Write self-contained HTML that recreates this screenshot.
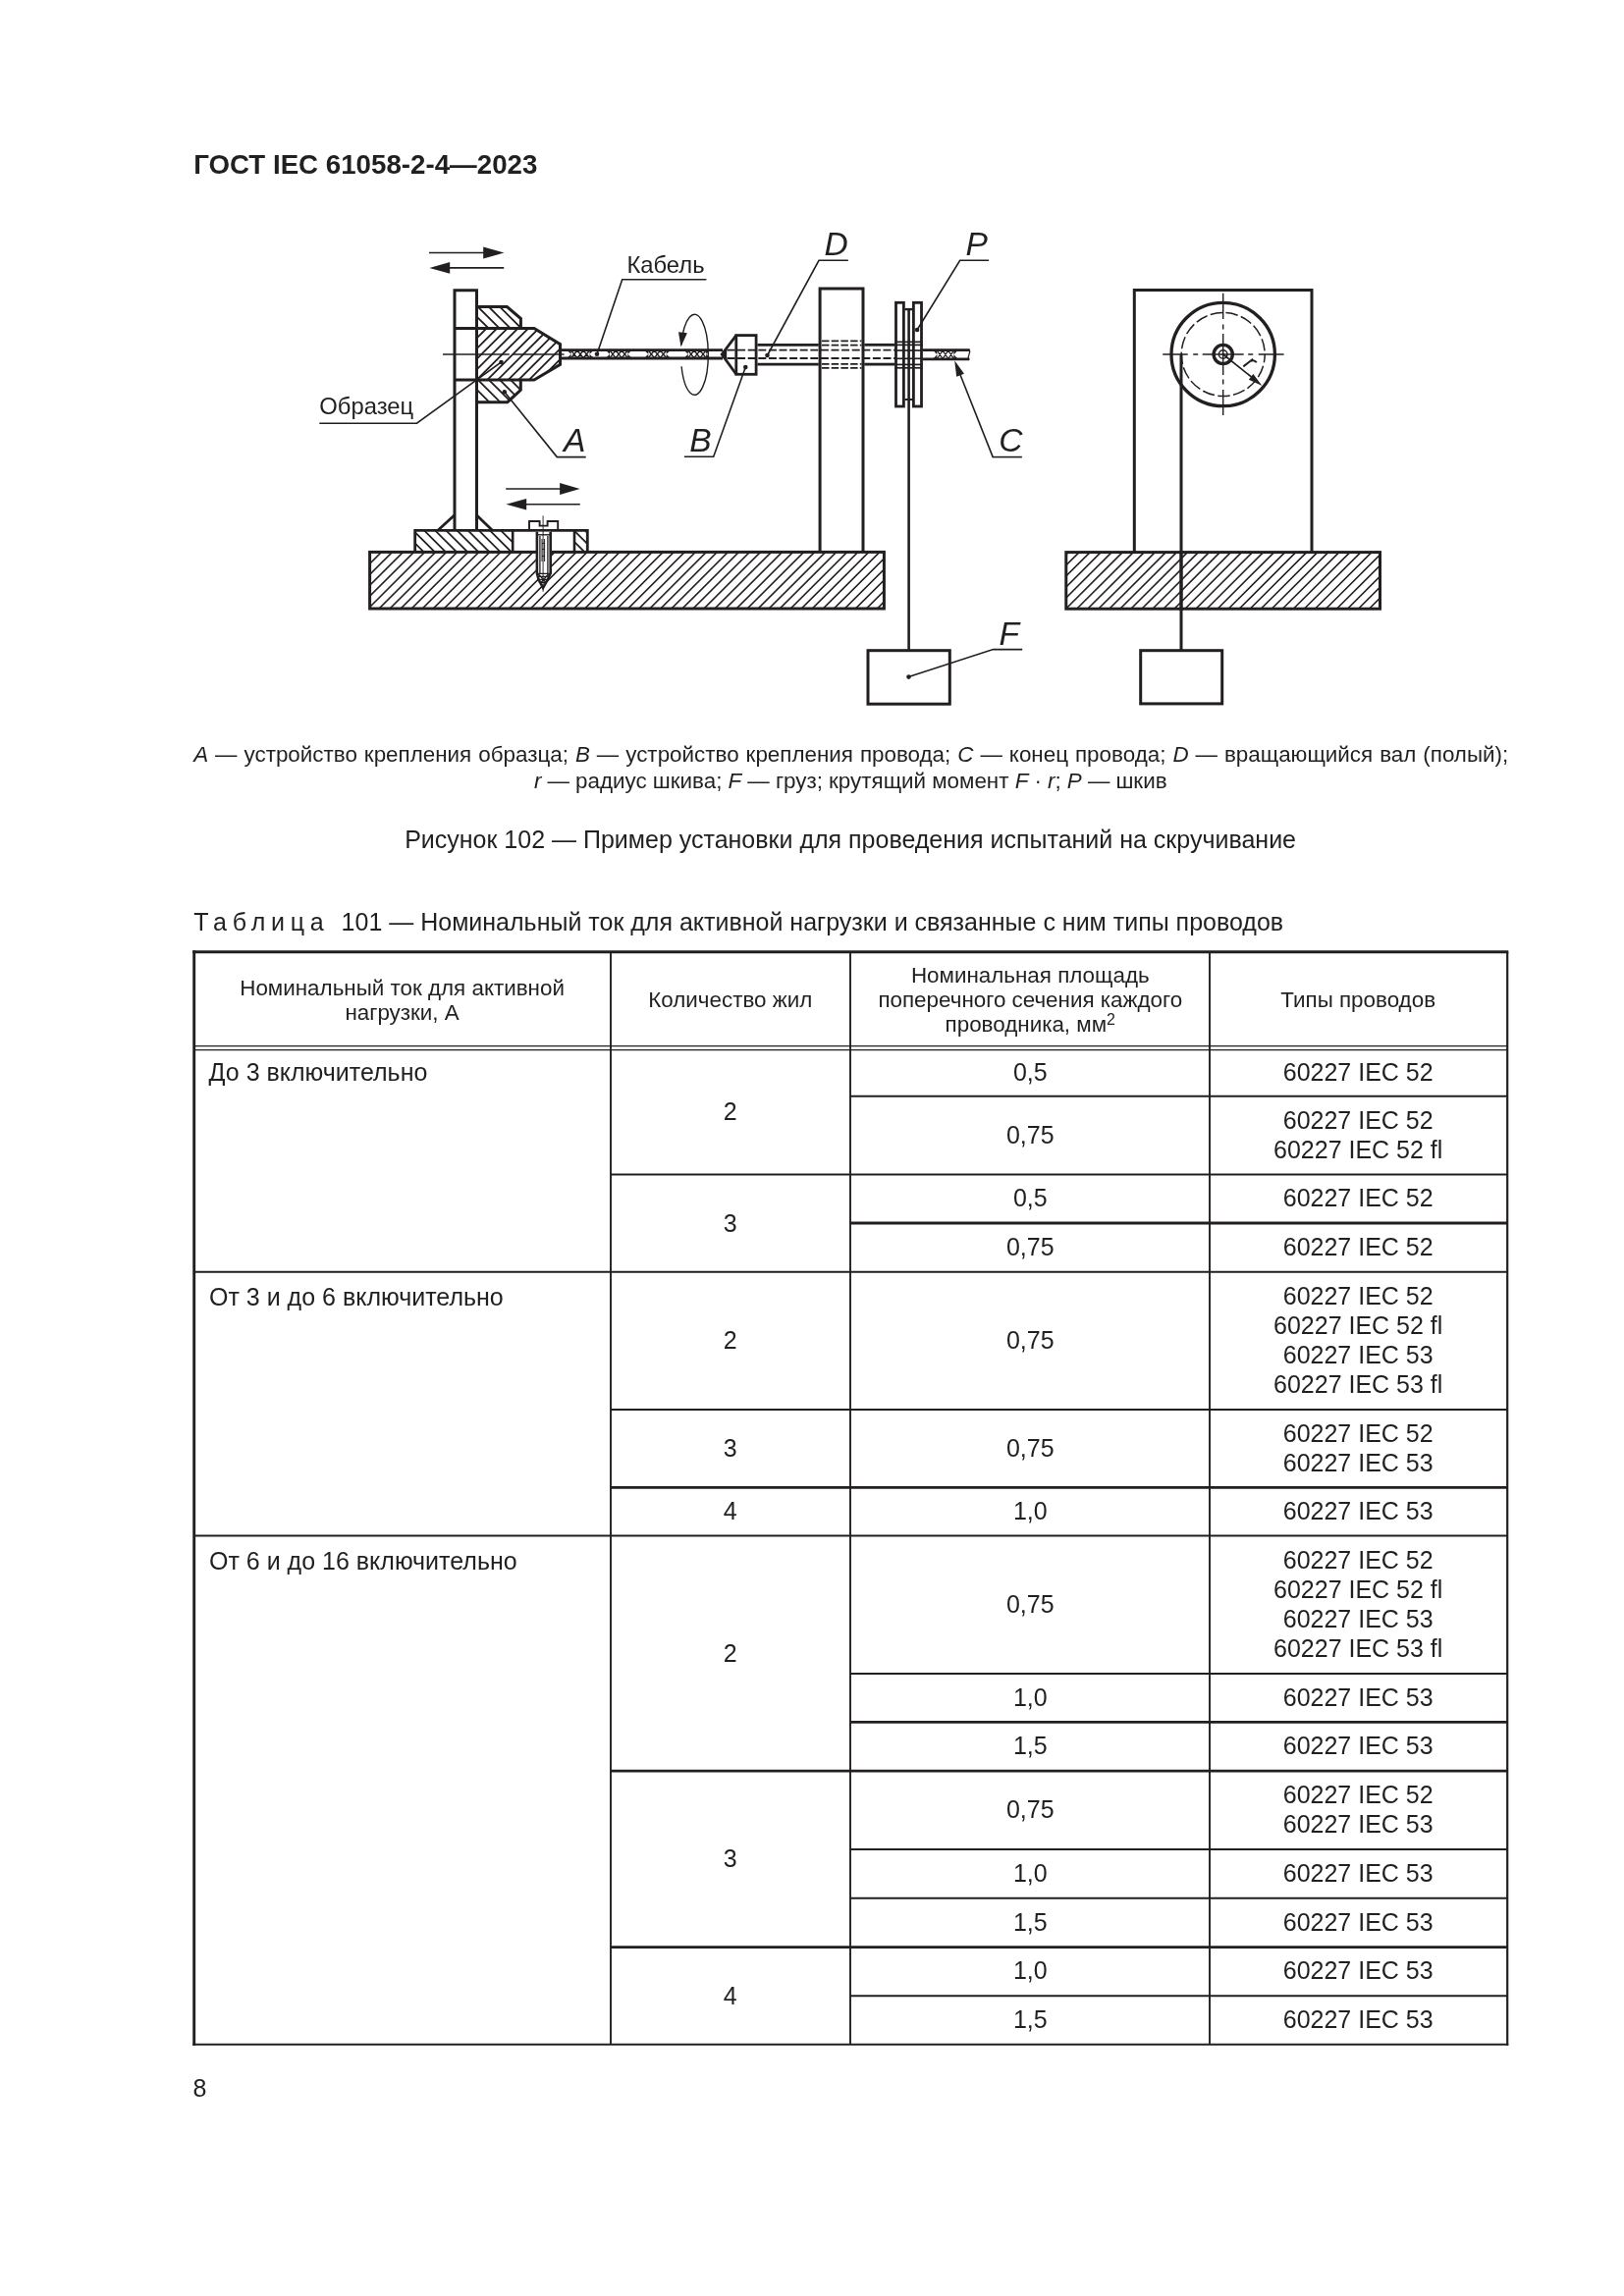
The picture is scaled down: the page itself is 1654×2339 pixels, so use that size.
<!DOCTYPE html>
<html lang="ru">
<head>
<meta charset="utf-8">
<title>ГОСТ IEC 61058-2-4—2023</title>
<style>
html,body{margin:0;padding:0;background:#fff;}
body{width:1654px;height:2339px;position:relative;overflow:hidden;font-family:"Liberation Sans",sans-serif;color:#231f20;}
.t{position:absolute;white-space:nowrap;font-family:"Liberation Sans",sans-serif;color:#231f20;}
i{font-style:italic;}
#txt{position:absolute;left:0;top:0;width:1654px;height:2339px;filter:grayscale(1);}
svg{position:absolute;left:0;top:0;}
</style>
</head>
<body>
<svg width="1654" height="2339" viewBox="0 0 1654 2339" fill="none" stroke="#231f20" stroke-linecap="butt" stroke-linejoin="miter">
<g id="fig">
<line x1="437.00" y1="257.50" x2="495.00" y2="257.50" stroke-width="1.6" />
<polygon points="513.50,257.50 492.20,263.50 492.20,251.50" fill="#231f20" stroke="none"/>
<line x1="456.00" y1="272.90" x2="513.20" y2="272.90" stroke-width="1.6" />
<polygon points="437.40,272.90 458.20,267.10 458.20,278.70" fill="#231f20" stroke="none"/>
<clipPath id="c1"><polygon points="485.50,312.50 516.40,312.50 530.40,324.50 530.40,334.50 485.50,334.50"/></clipPath>
<path d="M441.30 311.50L465.30 335.50M452.40 311.50L476.40 335.50M463.50 311.50L487.50 335.50M474.60 311.50L498.60 335.50M485.70 311.50L509.70 335.50M496.80 311.50L520.80 335.50M507.90 311.50L531.90 335.50M519.00 311.50L543.00 335.50M530.10 311.50L554.10 335.50" stroke-width="1.8" clip-path="url(#c1)"/>
<clipPath id="c2"><polygon points="485.50,334.50 544.00,334.50 570.50,350.60 570.50,371.30 544.00,387.00 485.50,387.00"/></clipPath>
<path d="M420.70 388.00L475.20 333.50M431.35 388.00L485.85 333.50M442.00 388.00L496.50 333.50M452.65 388.00L507.15 333.50M463.30 388.00L517.80 333.50M473.95 388.00L528.45 333.50M484.60 388.00L539.10 333.50M495.25 388.00L549.75 333.50M505.90 388.00L560.40 333.50M516.55 388.00L571.05 333.50M527.20 388.00L581.70 333.50M537.85 388.00L592.35 333.50M548.50 388.00L603.00 333.50M559.15 388.00L613.65 333.50M569.80 388.00L624.30 333.50" stroke-width="1.8" clip-path="url(#c2)"/>
<clipPath id="c3"><polygon points="485.50,387.00 530.30,387.00 530.30,397.40 516.80,409.70 485.50,409.70"/></clipPath>
<path d="M441.40 386.00L466.10 410.70M452.50 386.00L477.20 410.70M463.60 386.00L488.30 410.70M474.70 386.00L499.40 410.70M485.80 386.00L510.50 410.70M496.90 386.00L521.60 410.70M508.00 386.00L532.70 410.70M519.10 386.00L543.80 410.70M530.20 386.00L554.90 410.70" stroke-width="1.8" clip-path="url(#c3)"/>
<polyline points="463.00,540.20 463.00,295.80 485.50,295.80 485.50,540.20" stroke-width="3" fill="none" />
<polyline points="463.00,334.50 544.00,334.50 570.50,350.60 570.50,371.30 544.00,387.00 463.00,387.00" stroke-width="3" fill="none" />
<polyline points="485.50,312.50 516.40,312.50 530.40,324.50 530.40,334.50" stroke-width="3" fill="none" />
<polyline points="530.30,387.00 530.30,397.40 516.80,409.70 485.50,409.70" stroke-width="3" fill="none" />
<line x1="451.00" y1="361.00" x2="518.80" y2="361.00" stroke-width="1.6" />
<line x1="522.00" y1="361.00" x2="574.50" y2="361.00" stroke-width="1.6" />
<line x1="570.50" y1="356.70" x2="736.00" y2="356.70" stroke-width="2.8" />
<line x1="570.50" y1="365.00" x2="736.00" y2="365.00" stroke-width="2.8" />
<path d="M581.60 357.00L587.90 364.70M581.60 364.70L587.90 357.00M587.90 357.00L594.20 364.70M587.90 364.70L594.20 357.00M594.20 357.00L600.50 364.70M594.20 364.70L600.50 357.00" stroke-width="1.35"/>
<polygon points="581.60,356.70 577.30,356.70 581.60,360.85" fill="#231f20" stroke="none"/>
<polygon points="581.60,365.00 577.30,365.00 581.60,360.85" fill="#231f20" stroke="none"/>
<polygon points="600.50,356.70 604.80,356.70 600.50,360.85" fill="#231f20" stroke="none"/>
<polygon points="600.50,365.00 604.80,365.00 600.50,360.85" fill="#231f20" stroke="none"/>
<path d="M621.00 357.00L627.10 364.70M621.00 364.70L627.10 357.00M627.10 357.00L633.20 364.70M627.10 364.70L633.20 357.00M633.20 357.00L639.30 364.70M633.20 364.70L639.30 357.00" stroke-width="1.35"/>
<polygon points="621.00,356.70 616.70,356.70 621.00,360.85" fill="#231f20" stroke="none"/>
<polygon points="621.00,365.00 616.70,365.00 621.00,360.85" fill="#231f20" stroke="none"/>
<polygon points="639.30,356.70 643.60,356.70 639.30,360.85" fill="#231f20" stroke="none"/>
<polygon points="639.30,365.00 643.60,365.00 639.30,360.85" fill="#231f20" stroke="none"/>
<path d="M660.30 357.00L666.40 364.70M660.30 364.70L666.40 357.00M666.40 357.00L672.50 364.70M666.40 364.70L672.50 357.00M672.50 357.00L678.60 364.70M672.50 364.70L678.60 357.00" stroke-width="1.35"/>
<polygon points="660.30,356.70 656.00,356.70 660.30,360.85" fill="#231f20" stroke="none"/>
<polygon points="660.30,365.00 656.00,365.00 660.30,360.85" fill="#231f20" stroke="none"/>
<polygon points="678.60,356.70 682.90,356.70 678.60,360.85" fill="#231f20" stroke="none"/>
<polygon points="678.60,365.00 682.90,365.00 678.60,360.85" fill="#231f20" stroke="none"/>
<path d="M700.80 357.00L706.90 364.70M700.80 364.70L706.90 357.00M706.90 357.00L713.00 364.70M706.90 364.70L713.00 357.00M713.00 357.00L719.10 364.70M713.00 364.70L719.10 357.00" stroke-width="1.35"/>
<polygon points="700.80,356.70 696.50,356.70 700.80,360.85" fill="#231f20" stroke="none"/>
<polygon points="700.80,365.00 696.50,365.00 700.80,360.85" fill="#231f20" stroke="none"/>
<polygon points="719.10,356.70 723.40,356.70 719.10,360.85" fill="#231f20" stroke="none"/>
<polygon points="719.10,365.00 723.40,365.00 719.10,360.85" fill="#231f20" stroke="none"/>
<path d="M693.9 351.5 A13.9 41 0 1 1 694.1 373.2" stroke-width="1.4"/>
<polygon points="693.5,353.2 691.0,338.3 699.9,339.3" fill="#231f20" stroke="none"/>
<polyline points="749.80,341.60 735.20,361.00 749.80,381.30" stroke-width="2.8" fill="none" />
<polygon points="734.6,361 740.2,355.8 740.2,366.2" fill="#231f20" stroke="none"/>
<rect x="749.80" y="341.60" width="20.30" height="39.70" stroke-width="2.8" fill="none"/>
<line x1="740.50" y1="356.70" x2="912.00" y2="356.70" stroke-width="1.8" stroke-dasharray="8 2.6"/>
<line x1="740.50" y1="365.00" x2="912.00" y2="365.00" stroke-width="1.8" stroke-dasharray="8 2.6"/>
<line x1="771.40" y1="351.30" x2="833.80" y2="351.30" stroke-width="2.8" />
<line x1="771.40" y1="371.10" x2="833.80" y2="371.10" stroke-width="2.8" />
<line x1="880.30" y1="351.30" x2="911.30" y2="351.30" stroke-width="2.8" />
<line x1="880.30" y1="371.10" x2="911.30" y2="371.10" stroke-width="2.8" />
<polyline points="835.10,562.00 835.10,294.10 879.00,294.10 879.00,562.00" stroke-width="3" fill="none" />
<line x1="837.00" y1="347.40" x2="877.50" y2="347.40" stroke-width="1.8" stroke-dasharray="7.5 2.2"/>
<line x1="837.00" y1="351.60" x2="877.50" y2="351.60" stroke-width="1.8" stroke-dasharray="7.5 2.2"/>
<line x1="837.00" y1="370.80" x2="877.50" y2="370.80" stroke-width="1.8" stroke-dasharray="7.5 2.2"/>
<line x1="837.00" y1="374.80" x2="877.50" y2="374.80" stroke-width="1.8" stroke-dasharray="7.5 2.2"/>
<rect x="912.50" y="308.30" width="7.90" height="105.70" stroke-width="2.8" fill="none"/>
<rect x="930.40" y="308.30" width="8.10" height="105.70" stroke-width="2.8" fill="none"/>
<line x1="921.60" y1="315.10" x2="929.20" y2="315.10" stroke-width="2.4" />
<line x1="921.60" y1="407.00" x2="929.20" y2="407.00" stroke-width="2.0" />
<line x1="911.50" y1="348.30" x2="939.50" y2="348.30" stroke-width="1.7" />
<line x1="911.50" y1="351.40" x2="939.50" y2="351.40" stroke-width="1.7" />
<line x1="911.50" y1="357.00" x2="939.50" y2="357.00" stroke-width="1.7" />
<line x1="911.50" y1="365.30" x2="939.50" y2="365.30" stroke-width="1.7" />
<line x1="911.50" y1="371.40" x2="939.50" y2="371.40" stroke-width="1.7" />
<line x1="911.50" y1="374.80" x2="939.50" y2="374.80" stroke-width="1.7" />
<line x1="925.60" y1="315.50" x2="925.60" y2="662.50" stroke-width="2.6" />
<line x1="939.80" y1="356.70" x2="987.20" y2="356.70" stroke-width="2.8" />
<line x1="939.80" y1="365.80" x2="987.20" y2="365.80" stroke-width="2.8" />
<path d="M954.40 357.00L960.07 365.50M954.40 365.50L960.07 357.00M960.07 357.00L965.73 365.50M960.07 365.50L965.73 357.00M965.73 357.00L971.40 365.50M965.73 365.50L971.40 357.00" stroke-width="1.35"/>
<polygon points="954.40,356.70 950.10,356.70 954.40,361.25" fill="#231f20" stroke="none"/>
<polygon points="954.40,365.80 950.10,365.80 954.40,361.25" fill="#231f20" stroke="none"/>
<polygon points="971.40,356.70 975.70,356.70 971.40,361.25" fill="#231f20" stroke="none"/>
<polygon points="971.40,365.80 975.70,365.80 971.40,361.25" fill="#231f20" stroke="none"/>
<path d="M987 355.7 q1.6 2.6 0 5.3 q-1.6 2.7 0 5.6" stroke-width="1.3"/>
<line x1="977.50" y1="380.50" x2="1011.20" y2="465.60" stroke-width="1.6" />
<polygon points="972.20,367.30 981.98,380.64 974.17,383.72" fill="#231f20" stroke="none"/>
<line x1="1010.60" y1="465.60" x2="1040.90" y2="465.60" stroke-width="1.6" />
<polyline points="608.00,360.80 633.70,284.80 719.40,284.80" stroke-width="1.6" fill="none" />
<circle cx="608.00" cy="360.80" r="2.3" fill="#231f20" stroke="none"/>
<polyline points="510.50,369.00 424.50,431.20 325.30,431.20" stroke-width="1.6" fill="none" />
<circle cx="510.50" cy="369.00" r="2.3" fill="#231f20" stroke="none"/>
<polyline points="513.80,399.30 567.30,465.60 596.70,465.60" stroke-width="1.6" fill="none" />
<circle cx="513.80" cy="399.30" r="2.3" fill="#231f20" stroke="none"/>
<polyline points="759.30,374.10 726.70,465.30 696.90,465.30" stroke-width="1.6" fill="none" />
<circle cx="759.30" cy="374.10" r="2.3" fill="#231f20" stroke="none"/>
<polyline points="781.50,362.00 834.00,265.30 863.80,265.30" stroke-width="1.6" fill="none" />
<circle cx="781.50" cy="362.00" r="2.3" fill="#231f20" stroke="none"/>
<polyline points="934.10,336.00 977.70,265.30 1007.10,265.30" stroke-width="1.6" fill="none" />
<circle cx="934.10" cy="336.00" r="2.3" fill="#231f20" stroke="none"/>
<polyline points="925.50,689.60 1011.50,661.60 1041.20,661.60" stroke-width="1.6" fill="none" />
<circle cx="925.50" cy="689.60" r="2.3" fill="#231f20" stroke="none"/>
<clipPath id="c4"><polygon points="422.70,540.40 522.20,540.40 522.20,562.40 422.70,562.40"/></clipPath>
<path d="M386.40 539.40L410.40 563.40M397.55 539.40L421.55 563.40M408.70 539.40L432.70 563.40M419.85 539.40L443.85 563.40M431.00 539.40L455.00 563.40M442.15 539.40L466.15 563.40M453.30 539.40L477.30 563.40M464.45 539.40L488.45 563.40M475.60 539.40L499.60 563.40M486.75 539.40L510.75 563.40M497.90 539.40L521.90 563.40M509.05 539.40L533.05 563.40M520.20 539.40L544.20 563.40M531.35 539.40L555.35 563.40" stroke-width="1.75" clip-path="url(#c4)"/>
<clipPath id="c5"><polygon points="585.00,540.40 598.30,540.40 598.30,562.40 585.00,562.40"/></clipPath>
<path d="M550.15 539.40L574.15 563.40M561.30 539.40L585.30 563.40M572.45 539.40L596.45 563.40M583.60 539.40L607.60 563.40M594.75 539.40L618.75 563.40M605.90 539.40L629.90 563.40" stroke-width="1.75" clip-path="url(#c5)"/>
<polyline points="422.70,562.40 422.70,540.40 598.30,540.40 598.30,562.40" stroke-width="2.8" fill="none" />
<line x1="522.20" y1="540.40" x2="522.20" y2="562.40" stroke-width="2.6" />
<line x1="585.00" y1="540.40" x2="585.00" y2="562.40" stroke-width="2.6" />
<line x1="446.30" y1="540.00" x2="462.60" y2="525.00" stroke-width="2.8" />
<line x1="485.60" y1="525.00" x2="501.20" y2="540.00" stroke-width="2.8" />
<line x1="515.20" y1="498.00" x2="572.00" y2="498.00" stroke-width="1.6" />
<polygon points="590.60,498.00 570.10,503.90 570.10,492.10" fill="#231f20" stroke="none"/>
<line x1="534.00" y1="513.80" x2="590.80" y2="513.80" stroke-width="1.6" />
<polygon points="515.40,513.80 536.20,508.00 536.20,519.60" fill="#231f20" stroke="none"/>
<clipPath id="c6"><polygon points="376.60,562.40 545.90,562.40 545.90,584.00 553.10,599.00 553.10,620.00 376.60,620.00"/></clipPath>
<path d="M296.81 621.00L356.41 561.40M307.84 621.00L367.44 561.40M318.87 621.00L378.47 561.40M329.90 621.00L389.50 561.40M340.93 621.00L400.53 561.40M351.96 621.00L411.56 561.40M362.99 621.00L422.59 561.40M374.02 621.00L433.62 561.40M385.05 621.00L444.65 561.40M396.08 621.00L455.68 561.40M407.11 621.00L466.71 561.40M418.14 621.00L477.74 561.40M429.17 621.00L488.77 561.40M440.20 621.00L499.80 561.40M451.23 621.00L510.83 561.40M462.26 621.00L521.86 561.40M473.29 621.00L532.89 561.40M484.32 621.00L543.92 561.40M495.35 621.00L554.95 561.40M506.38 621.00L565.98 561.40M517.41 621.00L577.01 561.40M528.44 621.00L588.04 561.40M539.47 621.00L599.07 561.40M550.50 621.00L610.10 561.40M561.53 621.00L621.13 561.40" stroke-width="1.6" clip-path="url(#c6)"/>
<clipPath id="c7"><polygon points="561.60,562.40 900.40,562.40 900.40,620.00 553.10,620.00 553.10,599.00 561.60,584.00"/></clipPath>
<path d="M473.29 621.00L532.89 561.40M484.32 621.00L543.92 561.40M495.35 621.00L554.95 561.40M506.38 621.00L565.98 561.40M517.41 621.00L577.01 561.40M528.44 621.00L588.04 561.40M539.47 621.00L599.07 561.40M550.50 621.00L610.10 561.40M561.53 621.00L621.13 561.40M572.56 621.00L632.16 561.40M583.59 621.00L643.19 561.40M594.62 621.00L654.22 561.40M605.65 621.00L665.25 561.40M616.68 621.00L676.28 561.40M627.71 621.00L687.31 561.40M638.74 621.00L698.34 561.40M649.77 621.00L709.37 561.40M660.80 621.00L720.40 561.40M671.83 621.00L731.43 561.40M682.86 621.00L742.46 561.40M693.89 621.00L753.49 561.40M704.92 621.00L764.52 561.40M715.95 621.00L775.55 561.40M726.98 621.00L786.58 561.40M738.01 621.00L797.61 561.40M749.04 621.00L808.64 561.40M760.07 621.00L819.67 561.40M771.10 621.00L830.70 561.40M782.13 621.00L841.73 561.40M793.16 621.00L852.76 561.40M804.19 621.00L863.79 561.40M815.22 621.00L874.82 561.40M826.25 621.00L885.85 561.40M837.28 621.00L896.88 561.40M848.31 621.00L907.91 561.40M859.34 621.00L918.94 561.40M870.37 621.00L929.97 561.40M881.40 621.00L941.00 561.40M892.43 621.00L952.03 561.40M903.46 621.00L963.06 561.40" stroke-width="1.6" clip-path="url(#c7)"/>
<rect x="376.60" y="562.40" width="523.80" height="57.60" stroke-width="3" fill="none"/>
<polyline points="539.00,540.00 539.00,531.00 549.60,531.00 549.60,535.60 557.60,535.60 557.60,531.00 568.20,531.00 568.20,540.00" stroke-width="1.9" fill="none" />
<rect x="546.6" y="541.8" width="14.3" height="41.5" fill="#fff" stroke="none"/>
<polyline points="546.90,541.80 546.90,584.00 548.60,590.50 553.10,598.80 557.80,590.50 560.70,584.00 560.70,541.80" stroke-width="2.6" fill="none" />
<line x1="549.90" y1="546.00" x2="549.90" y2="584.00" stroke-width="1.3" />
<line x1="557.90" y1="546.00" x2="557.90" y2="584.00" stroke-width="1.3" />
<line x1="546.80" y1="544.80" x2="560.80" y2="544.80" stroke-width="1.4" />
<line x1="552.00" y1="549.00" x2="552.00" y2="572.00" stroke-width="1.0" />
<line x1="554.60" y1="549.00" x2="554.60" y2="572.00" stroke-width="1.0" />
<line x1="552.00" y1="553.50" x2="554.60" y2="553.50" stroke-width="1.1" />
<line x1="552.00" y1="559.50" x2="554.60" y2="559.50" stroke-width="1.1" />
<line x1="552.00" y1="566.50" x2="554.60" y2="566.50" stroke-width="1.1" />
<path d="M547.5 584.3 L560 584.3 M548 587.3 L559 587.3 M549.3 590.3 L557.5 590.3 M550.8 593.3 L555.8 593.3 M548.2 584.5 L556.5 594 M558.8 584.5 L550.5 594" stroke-width="1.2"/>
<line x1="553.10" y1="525.30" x2="553.10" y2="602.80" stroke-width="0.9" />
<rect x="884.00" y="662.70" width="83.30" height="54.50" stroke-width="3" fill="none"/>
<polyline points="1155.30,562.00 1155.30,295.50 1336.00,295.50 1336.00,562.00" stroke-width="3" fill="none" />
<circle cx="1245.7" cy="361.0" r="52.7" stroke-width="3.3"/>
<circle cx="1245.7" cy="361.0" r="42.5" stroke-width="1.5" stroke-dasharray="12.5 3.4" stroke-dashoffset="4"/>
<circle cx="1245.7" cy="361.0" r="9.6" stroke-width="3.4"/>
<circle cx="1245.7" cy="361.0" r="4.3" stroke-width="1.4"/>
<circle cx="1245.70" cy="361.00" r="1.3" fill="#231f20" stroke="none"/>
<line x1="1245.70" y1="361.00" x2="1184.20" y2="361.00" stroke-width="1.4" stroke-dasharray="21 4.5 5 5.5 40"/>
<line x1="1245.70" y1="361.00" x2="1307.60" y2="361.00" stroke-width="1.4" stroke-dasharray="21 4.5 5 5.5 40"/>
<line x1="1245.70" y1="361.00" x2="1245.70" y2="298.80" stroke-width="1.4" stroke-dasharray="21 4.5 5 5.5 40"/>
<line x1="1245.70" y1="361.00" x2="1245.70" y2="423.00" stroke-width="1.4" stroke-dasharray="21 4.5 5 5.5 40"/>
<line x1="1203.00" y1="361.00" x2="1203.00" y2="662.50" stroke-width="3" />
<line x1="1245.70" y1="361.00" x2="1277.50" y2="386.40" stroke-width="1.7" />
<polygon points="1285.40,393.00 1271.85,386.70 1276.37,381.10" fill="#231f20" stroke="none"/>
<g transform="translate(1265.6,372.8) rotate(40)"><path d="M0.9 0 L3.5 -12.2 M2.6 -8.2 C4.2 -11.6 6.6 -12.6 8.6 -11.6" stroke-width="2.0" stroke-linecap="butt"/></g>
<clipPath id="c8"><polygon points="1085.80,562.60 1405.50,562.60 1405.50,620.20 1085.80,620.20"/></clipPath>
<path d="M1007.41 621.20L1067.01 561.60M1018.44 621.20L1078.04 561.60M1029.47 621.20L1089.07 561.60M1040.50 621.20L1100.10 561.60M1051.53 621.20L1111.13 561.60M1062.56 621.20L1122.16 561.60M1073.59 621.20L1133.19 561.60M1084.62 621.20L1144.22 561.60M1095.65 621.20L1155.25 561.60M1106.68 621.20L1166.28 561.60M1117.71 621.20L1177.31 561.60M1128.74 621.20L1188.34 561.60M1139.77 621.20L1199.37 561.60M1150.80 621.20L1210.40 561.60M1161.83 621.20L1221.43 561.60M1172.86 621.20L1232.46 561.60M1183.89 621.20L1243.49 561.60M1194.92 621.20L1254.52 561.60M1205.95 621.20L1265.55 561.60M1216.98 621.20L1276.58 561.60M1228.01 621.20L1287.61 561.60M1239.04 621.20L1298.64 561.60M1250.07 621.20L1309.67 561.60M1261.10 621.20L1320.70 561.60M1272.13 621.20L1331.73 561.60M1283.16 621.20L1342.76 561.60M1294.19 621.20L1353.79 561.60M1305.22 621.20L1364.82 561.60M1316.25 621.20L1375.85 561.60M1327.28 621.20L1386.88 561.60M1338.31 621.20L1397.91 561.60M1349.34 621.20L1408.94 561.60M1360.37 621.20L1419.97 561.60M1371.40 621.20L1431.00 561.60M1382.43 621.20L1442.03 561.60M1393.46 621.20L1453.06 561.60M1404.49 621.20L1464.09 561.60M1415.52 621.20L1475.12 561.60" stroke-width="1.6" clip-path="url(#c8)"/>
<rect x="1085.80" y="562.60" width="319.70" height="57.60" stroke-width="3" fill="none"/>
<line x1="1203.00" y1="561.00" x2="1203.00" y2="622.00" stroke-width="3" />
<rect x="1161.70" y="662.70" width="83.00" height="54.20" stroke-width="3" fill="none"/>
</g>
<g id="tbl">
<line x1="197.70" y1="968.30" x2="197.70" y2="2083.80" stroke-width="2.9" />
<line x1="196.25" y1="969.70" x2="1536.30" y2="969.70" stroke-width="2.9" />
<line x1="1535.20" y1="969.70" x2="1535.20" y2="2083.80" stroke-width="2.2" />
<line x1="196.25" y1="2082.80" x2="1536.30" y2="2082.80" stroke-width="2.0" />
<line x1="197.70" y1="1065.60" x2="1535.20" y2="1065.60" stroke-width="1.25" />
<line x1="197.70" y1="1069.50" x2="1535.20" y2="1069.50" stroke-width="1.25" />
<line x1="622.00" y1="969.70" x2="622.00" y2="2082.80" stroke-width="1.9" />
<line x1="866.00" y1="969.70" x2="866.00" y2="2082.80" stroke-width="1.9" />
<line x1="1232.00" y1="969.70" x2="1232.00" y2="2082.80" stroke-width="1.9" />
<line x1="866.00" y1="1116.70" x2="1535.20" y2="1116.70" stroke-width="2.0" />
<line x1="622.00" y1="1196.60" x2="1535.20" y2="1196.60" stroke-width="2.0" />
<line x1="866.00" y1="1246.00" x2="1535.20" y2="1246.00" stroke-width="2.8" />
<line x1="197.70" y1="1295.80" x2="1535.20" y2="1295.80" stroke-width="2.0" />
<line x1="622.00" y1="1436.10" x2="1535.20" y2="1436.10" stroke-width="2.0" />
<line x1="622.00" y1="1515.40" x2="1535.20" y2="1515.40" stroke-width="2.8" />
<line x1="197.70" y1="1564.60" x2="1535.20" y2="1564.60" stroke-width="2.0" />
<line x1="866.00" y1="1704.90" x2="1535.20" y2="1704.90" stroke-width="2.0" />
<line x1="866.00" y1="1754.30" x2="1535.20" y2="1754.30" stroke-width="2.8" />
<line x1="622.00" y1="1804.20" x2="1535.20" y2="1804.20" stroke-width="2.8" />
<line x1="866.00" y1="1884.00" x2="1535.20" y2="1884.00" stroke-width="2.0" />
<line x1="866.00" y1="1933.80" x2="1535.20" y2="1933.80" stroke-width="2.0" />
<line x1="622.00" y1="1983.70" x2="1535.20" y2="1983.70" stroke-width="2.8" />
<line x1="866.00" y1="2033.20" x2="1535.20" y2="2033.20" stroke-width="2.0" />
</g>
</svg>
<div id="txt">
<div class="t" style="left:638.40px;top:256px;font-size:23.8px;line-height:27px;">Кабель</div>
<div class="t" style="left:325.30px;top:400px;font-size:23.8px;line-height:27px;">Образец</div>
<div class="t" style="left:574.00px;top:430px;font-size:33.6px;line-height:37px;font-style:italic;">A</div>
<div class="t" style="left:702.20px;top:430px;font-size:33.6px;line-height:37px;font-style:italic;">B</div>
<div class="t" style="left:839.40px;top:230px;font-size:33.6px;line-height:37px;font-style:italic;">D</div>
<div class="t" style="left:983.60px;top:230px;font-size:33.6px;line-height:37px;font-style:italic;">P</div>
<div class="t" style="left:1017.20px;top:430px;font-size:33.6px;line-height:37px;font-style:italic;">C</div>
<div class="t" style="left:1017.60px;top:627px;font-size:33.6px;line-height:37px;font-style:italic;">F</div>
<div class="t" style="left:197.20px;top:152px;font-size:27.7px;line-height:31px;font-weight:bold;">ГОСТ IEC 61058-2-4—2023</div>
<div class="t" style="left:197.20px;top:756px;font-size:22.4px;line-height:25px;word-spacing:0.778px;"><i>A</i> — устройство крепления образца; <i>B</i> — устройство крепления провода; <i>C</i> — конец провода; <i>D</i> — вращающийся вал (полый);</div>
<div class="t" style="left:80.60px;width:1571.40px;text-align:center;top:783px;font-size:22.4px;line-height:25px;word-spacing:-0.1px;"><i>r</i> — радиус шкива; <i>F</i> — груз; крутящий момент <i>F</i> · <i>r</i>; <i>P</i> — шкив</div>
<div class="t" style="left:80.20px;width:1571.80px;text-align:center;top:841px;font-size:25px;line-height:28px;">Рисунок 102 — Пример установки для проведения испытаний на скручивание</div>
<div class="t" style="left:197.20px;top:925px;font-size:25px;line-height:28px;"><span style="letter-spacing:5.75px">Таблиц</span>а</div>
<div class="t" style="left:347.60px;top:925px;font-size:25px;line-height:28px;">101 — Номинальный ток для активной нагрузки и связанные с ним типы проводов</div>
<div class="t" style="left:2.00px;width:815.20px;text-align:center;top:994px;font-size:22.4px;line-height:25px;">Номинальный ток для активной</div>
<div class="t" style="left:2.00px;width:815.20px;text-align:center;top:1019px;font-size:22.4px;line-height:25px;">нагрузки, А</div>
<div class="t" style="left:2.00px;width:1483.60px;text-align:center;top:1006px;font-size:22.4px;line-height:25px;">Количество жил</div>
<div class="t" style="left:446.60px;width:1205.40px;text-align:center;top:981px;font-size:22.4px;line-height:25px;">Номинальная площадь</div>
<div class="t" style="left:446.60px;width:1205.40px;text-align:center;top:1006px;font-size:22.4px;line-height:25px;">поперечного сечения каждого</div>
<div class="t" style="left:446.60px;width:1205.40px;text-align:center;top:1031px;font-size:22.4px;line-height:25px;">проводника, мм<span style="font-size:16px;position:relative;top:-7px;">2</span></div>
<div class="t" style="left:1114.40px;width:537.60px;text-align:center;top:1006px;font-size:22.4px;line-height:25px;">Типы проводов</div>
<div class="t" style="left:212.60px;top:1078px;font-size:25px;line-height:28px;">До 3 включительно</div>
<div class="t" style="left:213.00px;top:1307px;font-size:25px;line-height:28px;">От 3 и до 6 включительно</div>
<div class="t" style="left:213.00px;top:1576px;font-size:25px;line-height:28px;">От 6 и до 16 включительно</div>
<div class="t" style="left:2.00px;width:1483.60px;text-align:center;top:1118px;font-size:25px;line-height:28px;">2</div>
<div class="t" style="left:2.00px;width:1483.60px;text-align:center;top:1232px;font-size:25px;line-height:28px;">3</div>
<div class="t" style="left:2.00px;width:1483.60px;text-align:center;top:1351px;font-size:25px;line-height:28px;">2</div>
<div class="t" style="left:2.00px;width:1483.60px;text-align:center;top:1461px;font-size:25px;line-height:28px;">3</div>
<div class="t" style="left:2.00px;width:1483.60px;text-align:center;top:1525px;font-size:25px;line-height:28px;">4</div>
<div class="t" style="left:2.00px;width:1483.60px;text-align:center;top:1670px;font-size:25px;line-height:28px;">2</div>
<div class="t" style="left:2.00px;width:1483.60px;text-align:center;top:1879px;font-size:25px;line-height:28px;">3</div>
<div class="t" style="left:2.00px;width:1483.60px;text-align:center;top:2019px;font-size:25px;line-height:28px;">4</div>
<div class="t" style="left:446.60px;width:1205.40px;text-align:center;top:1078px;font-size:25px;line-height:28px;">0,5</div>
<div class="t" style="left:1114.40px;width:537.60px;text-align:center;top:1078px;font-size:25px;line-height:28px;">60227 IEC 52</div>
<div class="t" style="left:446.60px;width:1205.40px;text-align:center;top:1142px;font-size:25px;line-height:28px;">0,75</div>
<div class="t" style="left:1114.40px;width:537.60px;text-align:center;top:1127px;font-size:25px;line-height:28px;">60227 IEC 52</div>
<div class="t" style="left:1114.40px;width:537.60px;text-align:center;top:1157px;font-size:25px;line-height:28px;">60227 IEC 52 fl</div>
<div class="t" style="left:446.60px;width:1205.40px;text-align:center;top:1206px;font-size:25px;line-height:28px;">0,5</div>
<div class="t" style="left:1114.40px;width:537.60px;text-align:center;top:1206px;font-size:25px;line-height:28px;">60227 IEC 52</div>
<div class="t" style="left:446.60px;width:1205.40px;text-align:center;top:1256px;font-size:25px;line-height:28px;">0,75</div>
<div class="t" style="left:1114.40px;width:537.60px;text-align:center;top:1256px;font-size:25px;line-height:28px;">60227 IEC 52</div>
<div class="t" style="left:446.60px;width:1205.40px;text-align:center;top:1351px;font-size:25px;line-height:28px;">0,75</div>
<div class="t" style="left:1114.40px;width:537.60px;text-align:center;top:1306px;font-size:25px;line-height:28px;">60227 IEC 52</div>
<div class="t" style="left:1114.40px;width:537.60px;text-align:center;top:1336px;font-size:25px;line-height:28px;">60227 IEC 52 fl</div>
<div class="t" style="left:1114.40px;width:537.60px;text-align:center;top:1366px;font-size:25px;line-height:28px;">60227 IEC 53</div>
<div class="t" style="left:1114.40px;width:537.60px;text-align:center;top:1396px;font-size:25px;line-height:28px;">60227 IEC 53 fl</div>
<div class="t" style="left:446.60px;width:1205.40px;text-align:center;top:1461px;font-size:25px;line-height:28px;">0,75</div>
<div class="t" style="left:1114.40px;width:537.60px;text-align:center;top:1446px;font-size:25px;line-height:28px;">60227 IEC 52</div>
<div class="t" style="left:1114.40px;width:537.60px;text-align:center;top:1476px;font-size:25px;line-height:28px;">60227 IEC 53</div>
<div class="t" style="left:446.60px;width:1205.40px;text-align:center;top:1525px;font-size:25px;line-height:28px;">1,0</div>
<div class="t" style="left:1114.40px;width:537.60px;text-align:center;top:1525px;font-size:25px;line-height:28px;">60227 IEC 53</div>
<div class="t" style="left:446.60px;width:1205.40px;text-align:center;top:1620px;font-size:25px;line-height:28px;">0,75</div>
<div class="t" style="left:1114.40px;width:537.60px;text-align:center;top:1575px;font-size:25px;line-height:28px;">60227 IEC 52</div>
<div class="t" style="left:1114.40px;width:537.60px;text-align:center;top:1605px;font-size:25px;line-height:28px;">60227 IEC 52 fl</div>
<div class="t" style="left:1114.40px;width:537.60px;text-align:center;top:1635px;font-size:25px;line-height:28px;">60227 IEC 53</div>
<div class="t" style="left:1114.40px;width:537.60px;text-align:center;top:1665px;font-size:25px;line-height:28px;">60227 IEC 53 fl</div>
<div class="t" style="left:446.60px;width:1205.40px;text-align:center;top:1715px;font-size:25px;line-height:28px;">1,0</div>
<div class="t" style="left:1114.40px;width:537.60px;text-align:center;top:1715px;font-size:25px;line-height:28px;">60227 IEC 53</div>
<div class="t" style="left:446.60px;width:1205.40px;text-align:center;top:1764px;font-size:25px;line-height:28px;">1,5</div>
<div class="t" style="left:1114.40px;width:537.60px;text-align:center;top:1764px;font-size:25px;line-height:28px;">60227 IEC 53</div>
<div class="t" style="left:446.60px;width:1205.40px;text-align:center;top:1829px;font-size:25px;line-height:28px;">0,75</div>
<div class="t" style="left:1114.40px;width:537.60px;text-align:center;top:1814px;font-size:25px;line-height:28px;">60227 IEC 52</div>
<div class="t" style="left:1114.40px;width:537.60px;text-align:center;top:1844px;font-size:25px;line-height:28px;">60227 IEC 53</div>
<div class="t" style="left:446.60px;width:1205.40px;text-align:center;top:1894px;font-size:25px;line-height:28px;">1,0</div>
<div class="t" style="left:1114.40px;width:537.60px;text-align:center;top:1894px;font-size:25px;line-height:28px;">60227 IEC 53</div>
<div class="t" style="left:446.60px;width:1205.40px;text-align:center;top:1944px;font-size:25px;line-height:28px;">1,5</div>
<div class="t" style="left:1114.40px;width:537.60px;text-align:center;top:1944px;font-size:25px;line-height:28px;">60227 IEC 53</div>
<div class="t" style="left:446.60px;width:1205.40px;text-align:center;top:1993px;font-size:25px;line-height:28px;">1,0</div>
<div class="t" style="left:1114.40px;width:537.60px;text-align:center;top:1993px;font-size:25px;line-height:28px;">60227 IEC 53</div>
<div class="t" style="left:446.60px;width:1205.40px;text-align:center;top:2043px;font-size:25px;line-height:28px;">1,5</div>
<div class="t" style="left:1114.40px;width:537.60px;text-align:center;top:2043px;font-size:25px;line-height:28px;">60227 IEC 53</div>
<div class="t" style="left:196.50px;top:2113px;font-size:25px;line-height:28px;">8</div>
</div>
</body>
</html>
